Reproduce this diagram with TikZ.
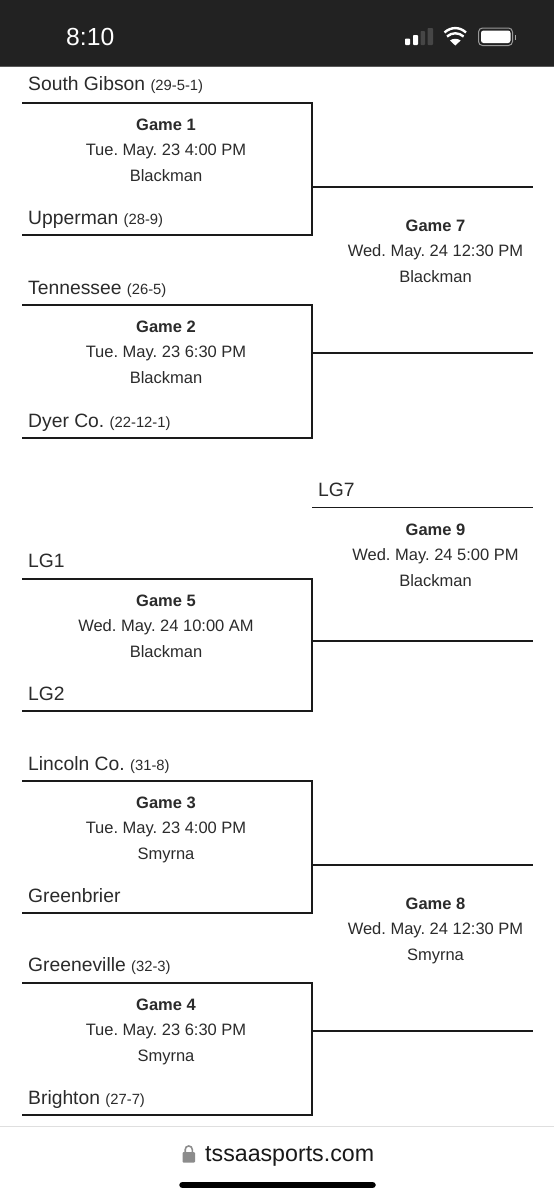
\documentclass[tikz,border=0pt]{standalone}
\usepackage{fontspec}
\setmainfont{Liberation Sans}
\definecolor{barc}{HTML}{222222}
\definecolor{inkc}{HTML}{2B2B2B}
\definecolor{linec}{HTML}{1A1A1A}
\tikzset{
  team/.style={anchor=base west,inner sep=0pt,text=inkc,font=\frenchspacing\fontsize{19.3}{22}\selectfont},
  gamet/.style={anchor=base,inner sep=0pt,text=inkc,font=\frenchspacing\fontsize{16.5}{20}\selectfont},
  brk/.style={draw=linec,line width=1.5pt},
}
\newcommand{\rectxt}[1]{{\fontsize{14.8}{18}\selectfont #1}}
\newcommand{\gameinfo}[6]{%
  \node[gamet] (#1a) at (#2,#3) {\textbf{#4}};
  \node[gamet] (#1b) at (#2,#3+25.5) {#5};
  \node[gamet] (#1c) at (#2,#3+51) {#6};}
\newcommand{\bracket}[4]{%
  \coordinate (#1tl) at (22,#2); \coordinate (#1tr) at (312,#2);
  \coordinate (#1br) at (312,#3); \coordinate (#1bl) at (22,#3);
  \coordinate (#1x) at (312,#4); \coordinate (#1e) at (533,#4);
  \draw[brk,line join=miter] (#1tl) -- (#1tr) -- (#1br) -- (#1bl);
  \draw[brk] (#1x) -- (#1e);}
\begin{document}
\begin{tikzpicture}[x=1pt,y=-1pt]
\useasboundingbox (0,0) rectangle (554,1200);
\fill[white] (0,0) rectangle (554,1200);
% status bar
\fill[barc] (0,0) rectangle (554,66);
\draw[color=gray!70!black,line width=1pt] (0,66.5) -- (554,66.5);
\node[anchor=base west,inner sep=0pt,text=white,font=\fontsize{24.7}{28}\selectfont] (clock) at (66,45.5) {8:10};
% signal
\fill[white,rounded corners=.8pt] (405,38.5) rectangle (410,45);
\fill[white,rounded corners=.8pt] (413,35) rectangle (418,45);
\fill[gray!55!black,rounded corners=.8pt] (420.5,31) rectangle (425,45);
\fill[gray!55!black,rounded corners=.8pt] (427.5,28) rectangle (433,45);
% wifi
\fill[white] (455.3,45.5) -- (450,40.5) .. controls (453,38.2) and (457.6,38.2) .. (460.6,40.5) -- cycle;
\draw[white,line width=2.4pt] (447,36.5) .. controls (452,32.2) and (458.6,32.2) .. (463.6,36.5);
\draw[white,line width=2.4pt] (444.5,32.5) .. controls (451,26.6) and (459.6,26.6) .. (466,32.5);
% battery
\draw[gray!80,line width=1pt,rounded corners=4pt] (478.5,28) rectangle (512.5,45.5);
\fill[white,rounded corners=2.5pt] (481,30.5) rectangle (510.5,43);
\fill[gray!70] (514.5,34.5) rectangle (515.5,39.5);
% brackets
\bracket{g1}{103}{235}{187}
\bracket{g2}{305}{438}{353}
\bracket{g5}{579}{711}{641}
\bracket{g3}{781}{913}{865}
\bracket{g4}{983}{1115}{1031}
\coordinate (g9l) at (312,507.5); \coordinate (g9r) at (533,507.5);
\draw[brk] (g9l) -- (g9r);
% teams
\node[team] (t1) at (28,90.5) {South Gibson \rectxt{(29-5-1)}};
\node[team] (t2) at (28,224) {Upperman \rectxt{(28-9)}};
\node[team] (t3) at (28,294) {Tennessee \rectxt{(26-5)}};
\node[team] (t4) at (28,427) {Dyer Co. \rectxt{(22-12-1)}};
\node[team] (t5) at (318,496) {LG7};
\node[team] (t6) at (28,567) {LG1};
\node[team] (t7) at (28,700) {LG2};
\node[team] (t8) at (28,770) {Lincoln Co. \rectxt{(31-8)}};
\node[team] (t9) at (28,902) {Greenbrier};
\node[team] (t10) at (28,971.5) {Greeneville \rectxt{(32-3)}};
\node[team] (t11) at (28,1104.5) {Brighton \rectxt{(27-7)}};
% games
\gameinfo{ga}{166}{130}{Game 1}{Tue. May. 23 4:00 PM}{Blackman}
\gameinfo{gb}{166}{332}{Game 2}{Tue. May. 23 6:30 PM}{Blackman}
\gameinfo{gc}{166}{606}{Game 5}{Wed. May. 24 10:00 AM}{Blackman}
\gameinfo{gd}{166}{808}{Game 3}{Tue. May. 23 4:00 PM}{Smyrna}
\gameinfo{ge}{166}{1010}{Game 4}{Tue. May. 23 6:30 PM}{Smyrna}
\gameinfo{gf}{435.5}{231}{Game 7}{Wed. May. 24 12:30 PM}{Blackman}
\gameinfo{gg}{435.5}{535}{Game 9}{Wed. May. 24 5:00 PM}{Blackman}
\gameinfo{gh}{435.5}{909}{Game 8}{Wed. May. 24 12:30 PM}{Smyrna}
% footer
\draw[gray!25,line width=1pt] (0,1126.5) -- (554,1126.5);
\fill[gray!90,rounded corners=1pt] (182.5,1152) rectangle (195,1162.5);
\draw[gray!90,line width=1.6pt] (185.2,1152) -- (185.2,1149.5) arc[start angle=180,end angle=360,radius=3.55] -- (192.3,1152);
\node[anchor=base west,inner sep=0pt,text=black!90,font=\fontsize{23.2}{27}\selectfont] (url) at (205,1161.5) {tssaasports.com};
\draw[black,line width=6.5pt,line cap=round] (182.5,1185) -- (372.5,1185);
\end{tikzpicture}
\end{document}
